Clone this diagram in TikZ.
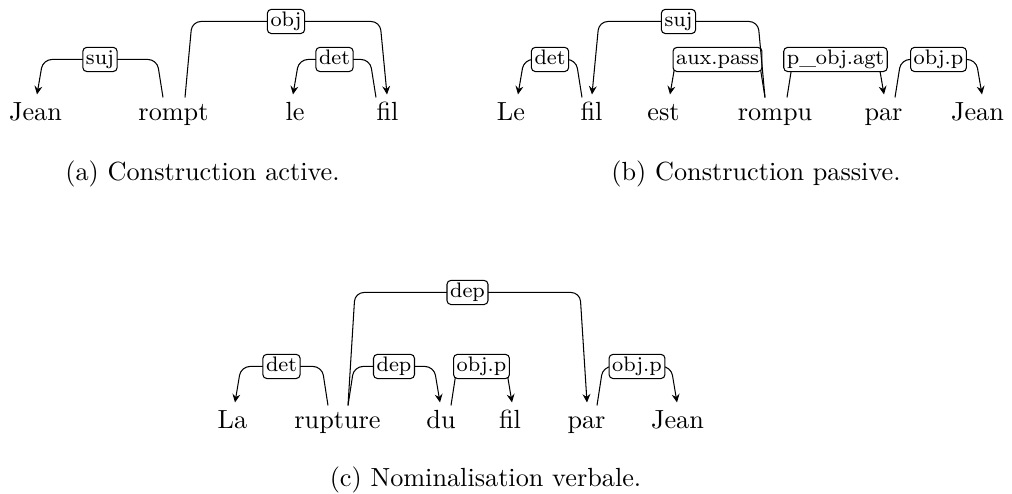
\documentclass[tikz,border=0pt]{standalone}
\usetikzlibrary{calc,arrows.meta}
\tikzset{
  word/.style={anchor=base, inner xsep=0pt, inner ysep=1.77pt, text height=7pt, text depth=2pt, font=\normalsize},
  deplab/.style={draw, fill=white, rounded corners=1.5pt, font=\footnotesize, inner xsep=1.2pt, inner ysep=0.9pt, text height=5.7pt, text depth=1.7pt},
  depline/.style={draw, -{Stealth[length=3.2pt,width=3pt,inset=1.1pt]}, rounded corners=3.4pt, line width=0.4pt},
  captext/.style={anchor=base, font=\normalsize}
}
% #1 label node name, #2 source word, #3 source dx, #4 target word, #5 target dx, #6 height, #7 slant, #8 label
\newcommand\darc[8]{%
  \draw[depline] ($(#2.north)+(#3,0)$) -- ($(#2.north)+(#3+#7,-#6)$)
    -- node[deplab] (#1) {#8} ($(#4.north)+(#5-#7,-#6)$) -- ($(#4.north)+(#5,-3)$);
}
\begin{document}
\begin{tikzpicture}[x=0.3811pt, y=-0.3811pt]
\useasboundingbox (0,0) rectangle (1012,494);
% (a)
\node[word] (aj) at (35.5,121) {Jean};
\node[word] (ar) at (173.5,121) {rompt};
\node[word] (al) at (295,121) {le};
\node[word] (af) at (387.5,121) {fil};
\darc{la1}{ar}{-10.5}{aj}{1.5}{38}{-6}{suj}
\darc{la2}{ar}{11.5}{af}{-0.5}{76}{7}{obj}
\darc{la3}{af}{-11.5}{al}{-2}{38}{-6}{det}
\node[captext] (capa) at (202.5,181) {(a) Construction active.};
% (b)
\node[word] (bl) at (511,121) {Le};
\node[word] (bf) at (591.5,121) {fil};
\node[word] (be) at (663.5,121) {est};
\node[word] (br) at (775,121) {rompu};
\node[word] (bp) at (883.5,121) {par};
\node[word] (bj) at (977.5,121) {Jean};
\darc{lb1}{bf}{-9.5}{bl}{7}{38}{-6}{det}
\darc{lb3}{br}{-10}{be}{6.5}{38}{-6}{aux.pass}
\darc{lb2}{br}{-10}{bf}{0.5}{76}{-7}{suj}
\darc{lb4}{br}{12}{bp}{0.5}{38}{6}{p\_obj.agt}
\darc{lb5}{bp}{11.5}{bj}{4.5}{38}{6}{obj.p}
\node[captext] (capb) at (756,181) {(b) Construction passive.};
% (c)
\node[word] (cl) at (232.5,429) {La};
\node[word] (cr) at (337.5,429) {rupture};
\node[word] (cd) at (441,429) {du};
\node[word] (cf) at (510,429) {fil};
\node[word] (cp) at (586.5,429) {par};
\node[word] (cj) at (677.5,429) {Jean};
\darc{lc1}{cr}{-9.5}{cl}{2.5}{39}{-6}{det}
\darc{lc2}{cr}{10.5}{cd}{-1}{39}{6}{dep}
\darc{lc3}{cd}{10}{cf}{2}{39}{6}{obj.p}
\darc{lc4}{cr}{10.5}{cp}{0.5}{113}{7}{dep}
\darc{lc5}{cp}{10.5}{cj}{-0.5}{39}{6}{obj.p}
\node[captext] (capc) at (485.5,487) {(c) Nominalisation verbale.};
\end{tikzpicture}
\end{document}
